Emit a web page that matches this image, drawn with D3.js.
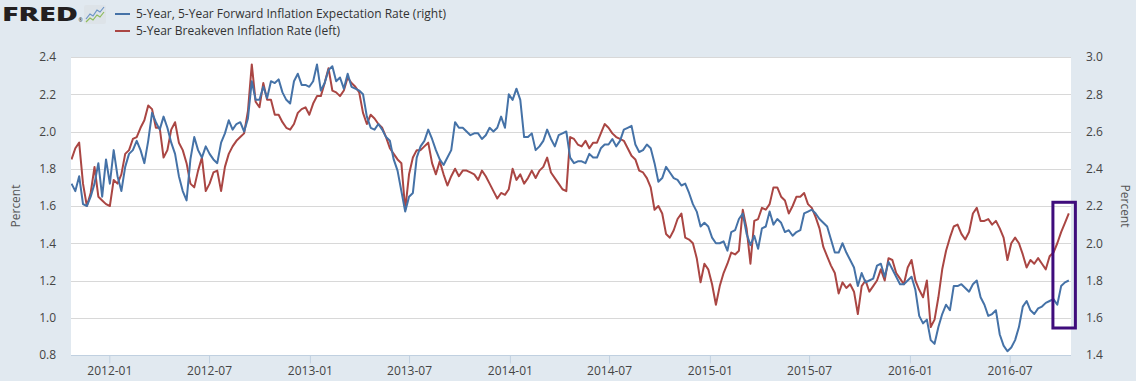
<!DOCTYPE html>
<html>
<head>
<meta charset="utf-8">
<script src="https://cdn.jsdelivr.net/npm/d3@7"></script>
<style>
  body { margin: 0; background: #e1e9f0; }
  svg { display: block; font-family: "Open Sans", sans-serif; }
</style>
</head>
<body>
<svg width="1136" height="381"></svg>
<script>
// weekly observations, first one on this Monday
const firstWeek = "2011-10-24";
const lastDay = "2016-10-21";

// 5-Year, 5-Year Forward Inflation Expectation Rate (right axis)
const forwardRate = [
  2.32, 2.28, 2.36, 2.21, 2.20, 2.25, 2.32, 2.43, 2.25, 2.45, 2.32, 2.50, 2.36, 2.28, 2.41, 2.48, 2.50, 2.55, 2.50, 2.43,
  2.55, 2.70, 2.65, 2.61, 2.68, 2.62, 2.54, 2.48, 2.36, 2.28, 2.23, 2.45, 2.57, 2.50, 2.46, 2.52, 2.48, 2.45, 2.43, 2.54,
  2.59, 2.66, 2.61, 2.64, 2.65, 2.60, 2.67, 2.87, 2.77, 2.77, 2.84, 2.78, 2.87, 2.86, 2.88, 2.81, 2.77, 2.75, 2.87, 2.91,
  2.85, 2.85, 2.84, 2.87, 2.96, 2.82, 2.86, 2.93, 2.95, 2.87, 2.89, 2.83, 2.91, 2.84, 2.83, 2.82, 2.80, 2.68, 2.62, 2.61,
  2.64, 2.61, 2.57, 2.55, 2.45, 2.39, 2.28, 2.17, 2.25, 2.27, 2.46, 2.52, 2.55, 2.61, 2.56, 2.50, 2.45, 2.42, 2.46, 2.50,
  2.65, 2.62, 2.62, 2.60, 2.58, 2.59, 2.59, 2.56, 2.58, 2.62, 2.60, 2.62, 2.68, 2.62, 2.80, 2.77, 2.83, 2.77, 2.57, 2.57,
  2.59, 2.50, 2.52, 2.55, 2.61, 2.56, 2.52, 2.58, 2.59, 2.60, 2.46, 2.43, 2.44, 2.44, 2.43, 2.48, 2.46, 2.46, 2.51, 2.53,
  2.53, 2.56, 2.52, 2.55, 2.61, 2.62, 2.63, 2.53, 2.49, 2.50, 2.53, 2.51, 2.43, 2.33, 2.35, 2.41, 2.38, 2.35, 2.34, 2.31,
  2.32, 2.27, 2.21, 2.17, 2.09, 2.11, 2.09, 2.03, 2.00, 2.00, 2.01, 1.96, 2.06, 2.07, 2.13, 2.16, 2.05, 1.99, 2.04, 1.97,
  2.08, 2.09, 2.17, 2.10, 2.13, 2.11, 2.06, 2.07, 2.04, 2.06, 2.07, 2.16, 2.17, 2.18, 2.16, 2.13, 2.11, 2.09, 2.02, 1.95,
  1.95, 2.00, 1.95, 1.91, 1.87, 1.77, 1.84, 1.79, 1.80, 1.81, 1.88, 1.89, 1.82, 1.90, 1.86, 1.82, 1.78, 1.78, 1.80, 1.82,
  1.75, 1.61, 1.57, 1.59, 1.48, 1.46, 1.55, 1.62, 1.67, 1.64, 1.77, 1.77, 1.78, 1.76, 1.74, 1.78, 1.80, 1.71, 1.67, 1.61,
  1.62, 1.64, 1.51, 1.45, 1.42, 1.44, 1.48, 1.55, 1.66, 1.69, 1.64, 1.62, 1.65, 1.66, 1.68, 1.69, 1.70, 1.67, 1.77, 1.79,
  1.80
];

// 5-Year Breakeven Inflation Rate (left axis)
const breakevenRate = [
  1.85, 1.91, 1.94, 1.72, 1.60, 1.67, 1.81, 1.65, 1.63, 1.61, 1.60, 1.74, 1.72, 1.77, 1.88, 1.90, 1.96, 1.97, 2.02, 2.06,
  2.14, 2.12, 2.02, 2.02, 1.86, 1.90, 2.01, 2.05, 1.94, 1.90, 1.83, 1.72, 1.70, 1.79, 1.86, 1.68, 1.72, 1.78, 1.79, 1.68,
  1.81, 1.88, 1.92, 1.95, 1.97, 1.99, 2.11, 2.36, 2.16, 2.13, 2.26, 2.17, 2.17, 2.09, 2.09, 2.05, 2.02, 2.01, 2.04, 2.10,
  2.12, 2.13, 2.09, 2.15, 2.19, 2.19, 2.26, 2.34, 2.22, 2.21, 2.19, 2.22, 2.29, 2.26, 2.24, 2.21, 2.10, 2.04, 2.09, 2.07,
  2.04, 2.02, 1.97, 1.91, 1.88, 1.85, 1.83, 1.58, 1.77, 1.86, 1.90, 1.90, 1.92, 1.94, 1.83, 1.77, 1.84, 1.77, 1.71, 1.76,
  1.80, 1.76, 1.79, 1.79, 1.78, 1.77, 1.74, 1.79, 1.76, 1.72, 1.68, 1.64, 1.67, 1.66, 1.69, 1.80, 1.74, 1.77, 1.72, 1.75,
  1.79, 1.75, 1.79, 1.81, 1.86, 1.78, 1.75, 1.72, 1.69, 1.68, 1.97, 1.96, 1.93, 1.92, 1.95, 1.91, 1.94, 1.94, 1.99, 2.04,
  2.02, 1.99, 1.97, 1.96, 1.95, 1.91, 1.87, 1.85, 1.79, 1.78, 1.75, 1.70, 1.58, 1.60, 1.56, 1.45, 1.43, 1.47, 1.53, 1.56,
  1.43, 1.42, 1.40, 1.32, 1.19, 1.29, 1.26, 1.18, 1.07, 1.17, 1.24, 1.29, 1.35, 1.34, 1.36, 1.58, 1.48, 1.29, 1.52, 1.53,
  1.59, 1.58, 1.61, 1.70, 1.70, 1.65, 1.63, 1.56, 1.60, 1.65, 1.65, 1.67, 1.61, 1.59, 1.54, 1.48, 1.38, 1.33, 1.28, 1.24,
  1.13, 1.19, 1.16, 1.18, 1.14, 1.02, 1.17, 1.20, 1.14, 1.17, 1.20, 1.26, 1.20, 1.32, 1.31, 1.24, 1.21, 1.18, 1.27, 1.31,
  1.20, 1.15, 1.11, 1.20, 0.95, 0.99, 1.11, 1.26, 1.36, 1.43, 1.49, 1.50, 1.45, 1.42, 1.46, 1.56, 1.59, 1.52, 1.52, 1.53,
  1.50, 1.52, 1.48, 1.43, 1.31, 1.40, 1.43, 1.40, 1.34, 1.27, 1.31, 1.29, 1.32, 1.29, 1.26, 1.33, 1.35, 1.40, 1.46, 1.51,
  1.56
];

const xTickLabels = ["2012-01", "2012-07", "2013-01", "2013-07", "2014-01", "2014-07", "2015-01", "2015-07", "2016-01", "2016-07"];
const leftTicks = [0.8, 1.0, 1.2, 1.4, 1.6, 1.8, 2.0, 2.2, 2.4];
const rightTicks = [1.4, 1.6, 1.8, 2.0, 2.2, 2.4, 2.6, 2.8, 3.0];
const legendLabels = ["5-Year, 5-Year Forward Inflation Expectation Rate (right)", "5-Year Breakeven Inflation Rate (left)"];

// hand-drawn highlight around the last weeks (date range, right-axis values)
const highlight = { from: "2016-09-18", to: "2016-10-29", top: 2.22, bottom: 1.545 };

const width = 1136;
const height = 381;
const margin = { top: 57, right: 65, bottom: 26, left: 71 };
const blue = "#4572a7";
const red = "#aa4643";

const parseDay = d3.timeParse("%Y-%m-%d");
const parseMonth = d3.timeParse("%Y-%m");
const start = parseDay(firstWeek);
const weeks = forwardRate.map((_, i) => d3.timeDay.offset(start, 7 * i));

const x = d3.scaleTime()
  .domain([start, parseDay(lastDay)])
  .range([margin.left + 0.5, width - margin.right]);

const yLeft = d3.scaleLinear()
  .domain([0.8, 2.4])
  .range([height - margin.bottom, margin.top]);

const yRight = d3.scaleLinear()
  .domain([1.4, 3.0])
  .range([height - margin.bottom, margin.top]);

const svg = d3.select("svg");

// plot background
svg.append("rect")
  .attr("x", margin.left)
  .attr("y", margin.top)
  .attr("width", width - margin.right - margin.left)
  .attr("height", height - margin.bottom - margin.top)
  .attr("fill", "#fff");

svg.append("clipPath").attr("id", "plot")
  .append("rect")
  .attr("x", margin.left)
  .attr("y", margin.top - 3)
  .attr("width", width - margin.right - margin.left)
  .attr("height", height - margin.bottom - margin.top + 3);

// grid lines
svg.append("g")
  .selectAll("line")
  .data(leftTicks.slice(1))
  .join("line")
  .attr("x1", margin.left)
  .attr("x2", width - margin.right)
  .attr("y1", (d) => Math.round(yLeft(d)) + 0.5)
  .attr("y2", (d) => Math.round(yLeft(d)) + 0.5)
  .attr("stroke", "#d8d8d8");

// x axis
const xAxis = (g) =>
  g
    .attr("transform", `translate(0,${height - margin.bottom + 0.5})`)
    .call(
      d3.axisBottom(x)
        .tickValues(xTickLabels.map(parseMonth))
        .tickFormat(d3.timeFormat("%Y-%m"))
        .tickSize(8)
        .tickSizeOuter(0)
        .tickPadding(3)
    )
    .call((g) => g.select(".domain").attr("stroke", "#c0d0e0").attr("d", `M${margin.left},0H${width - margin.right}`))
    .call((g) => g.selectAll(".tick line").attr("stroke", "#c0d0e0"))
    .call((g) => g.selectAll(".tick text").attr("fill", "#444").attr("font-size", 12).attr("font-family", "Open Sans"));

const yLeftAxis = (g) =>
  g
    .attr("transform", `translate(${margin.left},0)`)
    .call(d3.axisLeft(yLeft).tickValues(leftTicks).tickFormat(d3.format(".1f")).tickSize(0).tickPadding(15))
    .call((g) => g.select(".domain").remove())
    .call((g) => g.selectAll(".tick text").attr("fill", "#444").attr("font-size", 12).attr("font-family", "Open Sans"));

const yRightAxis = (g) =>
  g
    .attr("transform", `translate(${width - margin.right},0)`)
    .call(d3.axisRight(yRight).tickValues(rightTicks).tickFormat(d3.format(".1f")).tickSize(0).tickPadding(15))
    .call((g) => g.select(".domain").remove())
    .call((g) => g.selectAll(".tick text").attr("fill", "#444").attr("font-size", 12).attr("font-family", "Open Sans"));

svg.append("g").call(xAxis);
svg.append("g").call(yLeftAxis);
svg.append("g").call(yRightAxis);

// axis titles
const midY = (margin.top + height - margin.bottom) / 2;
svg.append("text")
  .attr("transform", `translate(20,${midY}) rotate(-90)`)
  .attr("text-anchor", "middle")
  .attr("font-size", 12)
  .attr("fill", "#555")
  .text("Percent");
svg.append("text")
  .attr("transform", `translate(1121,${midY}) rotate(90)`)
  .attr("text-anchor", "middle")
  .attr("font-size", 12)
  .attr("fill", "#555")
  .text("Percent");

// series
const lines = svg.append("g").attr("clip-path", "url(#plot)")
  .attr("fill", "none")
  .attr("stroke-width", 2)
  .attr("stroke-linejoin", "round");

const forwardLine = d3.line()
  .defined((d) => d != null)
  .x((d, i) => x(weeks[i]))
  .y((d) => yRight(d));

const breakevenLine = d3.line()
  .defined((d) => d != null)
  .x((d, i) => x(weeks[i]))
  .y((d) => yLeft(d));

lines.append("path").attr("d", breakevenLine(breakevenRate)).attr("stroke", red);
lines.append("path").attr("d", forwardLine(forwardRate)).attr("stroke", blue);

// highlight box
svg.append("rect")
  .attr("x", x(parseDay(highlight.from)))
  .attr("y", yRight(highlight.top))
  .attr("width", x(parseDay(highlight.to)) - x(parseDay(highlight.from)))
  .attr("height", yRight(highlight.bottom) - yRight(highlight.top))
  .attr("fill", "none")
  .attr("stroke", "#3f0c7c")
  .attr("stroke-width", 3);

// FRED logo
const logo = svg.append("g");
logo.append("text")
  .attr("x", 2)
  .attr("y", 21)
  .attr("font-size", 20)
  .attr("font-weight", 800)
  .attr("textLength", 76)
  .attr("lengthAdjust", "spacingAndGlyphs")
  .attr("fill", "#231f20")
  .text("FRED");
logo.append("text")
  .attr("x", 78.5)
  .attr("y", 22)
  .attr("font-size", 5)
  .attr("fill", "#231f20")
  .text("®");
logo.append("rect")
  .attr("x", 84).attr("y", 5).attr("width", 22).attr("height", 19).attr("rx", 2)
  .attr("fill", "#dde3e8");
logo.append("path")
  .attr("d", "M86,19 L90,14 L93,16 L97,10 L100,12 L104,7")
  .attr("fill", "none").attr("stroke", "#6b93c6").attr("stroke-width", 1.2);
logo.append("path")
  .attr("d", "M86,22 L90,18 L93,20 L97,15 L100,17 L104,12")
  .attr("fill", "none").attr("stroke", "#8dbb5a").attr("stroke-width", 1.2);

// legend
const legend = svg.append("g")
  .selectAll("g")
  .data(legendLabels)
  .join("g")
  .attr("transform", (d, i) => `translate(115,${14 + i * 17})`);
legend.append("line")
  .attr("x1", 0).attr("x2", 15)
  .attr("stroke", (d, i) => (i === 0 ? blue : red))
  .attr("stroke-width", 2);
legend.append("text")
  .attr("x", 21)
  .attr("dy", "0.35em")
  .attr("font-size", 12)
  .attr("fill", "#333")
  .text((d) => d);
</script>
</body>
</html>
